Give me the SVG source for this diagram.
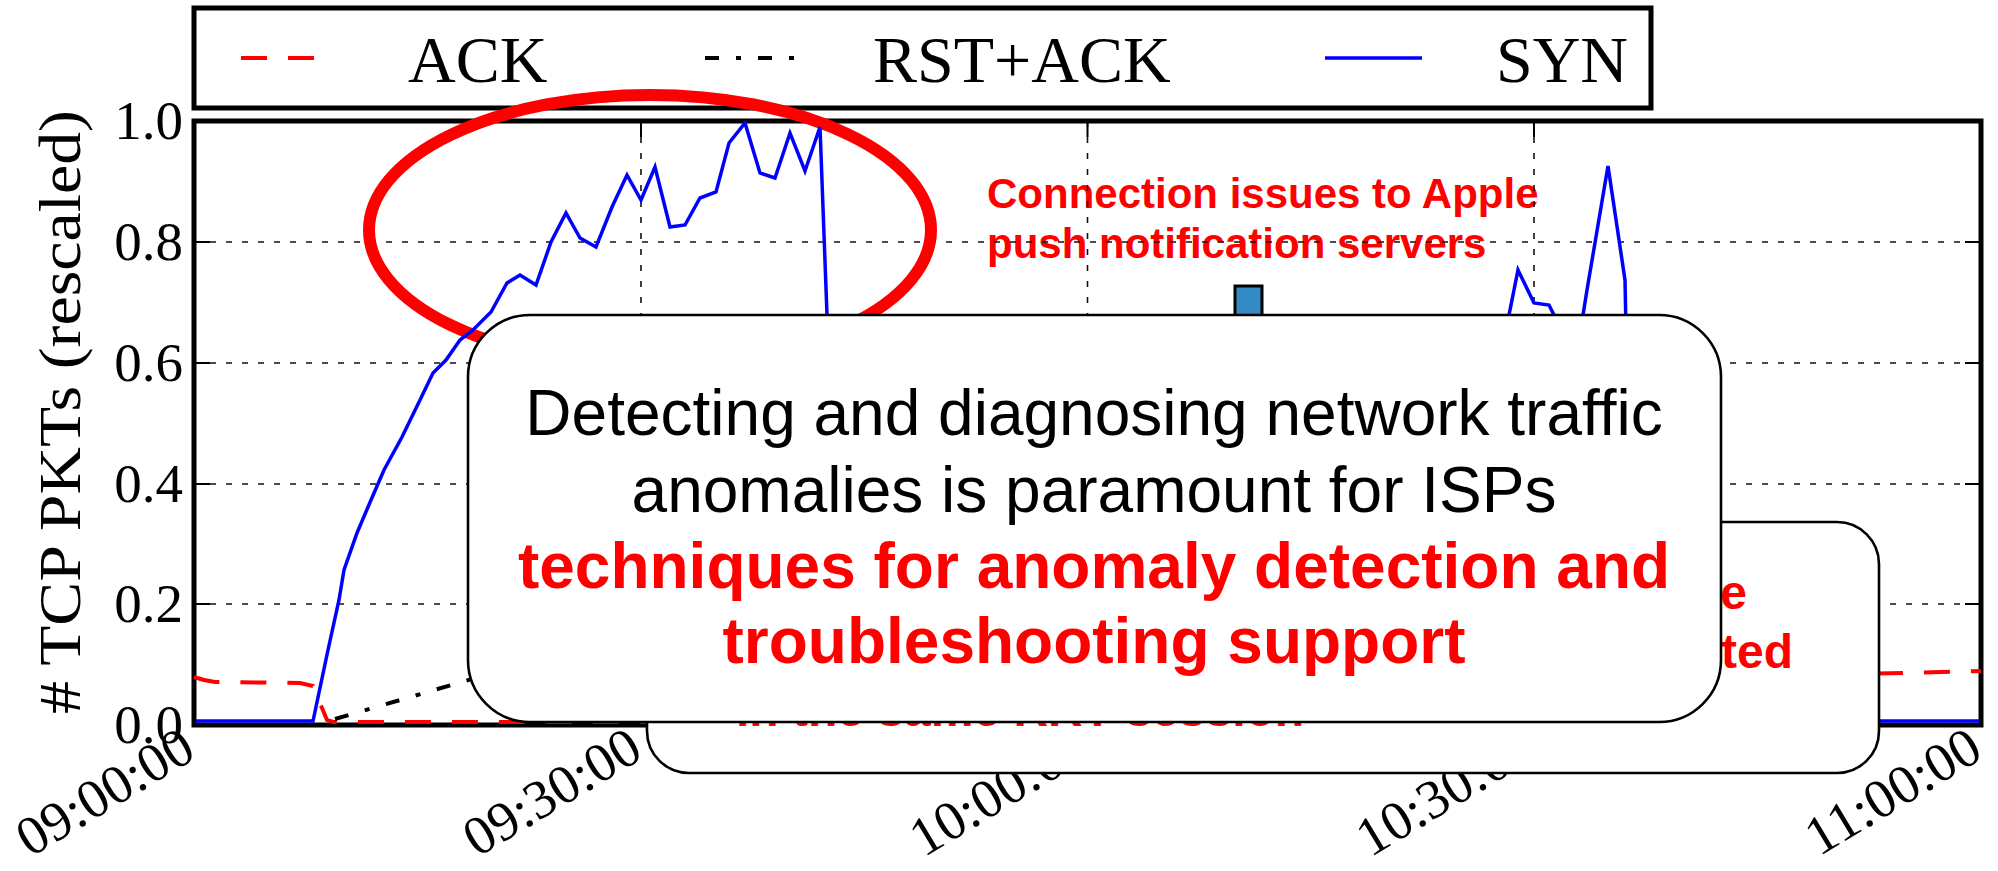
<svg xmlns="http://www.w3.org/2000/svg" width="1998" height="871" viewBox="0 0 1998 871">
  <defs>
    <style>
      .serif { font-family: "Liberation Serif", "Times New Roman", serif; fill: #000; }
      .tick { font-size: 55px; }
      .legend { font-size: 66px; }
      .sans { font-family: "Liberation Sans", Arial, sans-serif; }
      .msg { font-size: 64px; fill: #000; }
      .hl { font-size: 64px; fill: #ff0000; font-weight: bold; }
      .note { font-size: 42px; fill: #ff0000; font-weight: bold; }
      .note2 { font-size: 48px; fill: #ff0000; font-weight: bold; }
      .grid { stroke: #111; stroke-width: 1.6; stroke-dasharray: 6 10; fill: none; }
      .tk { stroke: #000; stroke-width: 2; fill: none; }
      .frame { fill: none; stroke: #000; stroke-width: 5; }
      .ack { fill: none; stroke: #ff0000; stroke-width: 4; stroke-dasharray: 26 21; }
      .rst { fill: none; stroke: #000; stroke-width: 4; stroke-dasharray: 14 17 5 17; }
      .syn { fill: none; stroke: #0000ff; stroke-width: 3.5; stroke-linejoin: miter; }
      .box { fill: #fff; stroke: #000; stroke-width: 2.6; }
    </style>
  </defs>

  <rect x="0" y="0" width="1998" height="871" fill="#fff"/>

  <!-- annotation on the plot -->
  <g id="apple-note" class="sans">
    <text class="note" x="987" y="208">Connection issues to Apple</text>
    <text class="note" x="987" y="258">push notification servers</text>
  </g>
  <g id="marker">
    <rect x="1235" y="286" width="27" height="50" fill="#3389c4" stroke="#000" stroke-width="3"/>
  </g>

  <!-- grid -->
  <g id="grid">
    <path class="grid" d="M641,121V725M1087.5,121V725M1534,121V725"/>
    <path class="grid" d="M194,242H1981M194,363H1981M194,484H1981M194,604H1981"/>
  </g>

  <!-- ticks -->
  <g id="ticks">
    <path class="tk" d="M194,242h16M194,363h16M194,484h16M194,604h16M1981,242h-16M1981,363h-16M1981,484h-16M1981,604h-16"/>
    <path class="tk" d="M641,121v16M1087.5,121v16M1534,121v16M641,725v-16M1087.5,725v-16M1534,725v-16"/>
  </g>

  <!-- axes frame -->
  <rect id="axes" class="frame" x="194" y="121" width="1787" height="604"/>

  <!-- y tick labels -->
  <g id="yticks" class="serif tick" text-anchor="end">
    <text x="183" y="139">1.0</text>
    <text x="183" y="260">0.8</text>
    <text x="183" y="381">0.6</text>
    <text x="183" y="502">0.4</text>
    <text x="183" y="622">0.2</text>
    <text x="183" y="743">0.0</text>
  </g>
  <text id="ylabel" class="serif" font-size="60" text-anchor="middle" textLength="604" lengthAdjust="spacingAndGlyphs" transform="translate(80,412) rotate(-90)"># TCP PKTs (rescaled)</text>

  <!-- x tick labels -->
  <g id="xticks" class="serif tick" text-anchor="end">
    <text transform="translate(198,757) rotate(-31)">09:00:00</text>
    <text transform="translate(645,757) rotate(-31)">09:30:00</text>
    <text transform="translate(1091.5,757) rotate(-31)">10:00:00</text>
    <text transform="translate(1538,757) rotate(-31)">10:30:00</text>
    <text transform="translate(1985,757) rotate(-31)">11:00:00</text>
  </g>

  <!-- legend -->
  <g id="legend">
    <rect class="frame" x="194" y="8" width="1457" height="100" stroke-width="4.5"/>
    <path class="ack" d="M241,58H315"/>
    <text class="serif legend" x="408" y="82">ACK</text>
    <path class="rst" d="M705,58H796"/>
    <text class="serif legend" x="873" y="82">RST+ACK</text>
    <path class="syn" d="M1325,58H1422" stroke-width="4"/>
    <text class="serif legend" x="1496" y="82">SYN</text>
  </g>

  <!-- highlight ellipse -->
  <ellipse id="highlight" cx="650" cy="230" rx="281" ry="135" fill="none" stroke="#ff0000" stroke-width="12"/>

  <!-- data series -->
  <g id="series">
    <path class="ack" d="M194,677Q205,681 215,682L300,683L313,686L322,708L327,720L333,722L1840,722L1860,674L1981,671"/>
    <path class="rst" d="M335,719L472,679L560,662"/>
    <path class="syn" d="M196,721L313,721L328,650L339,600L344,570L357,533L371,500L384,470L402,437L420,400L433,373L446,360L460,340L473,330L491,312L507,283L520,275L536,285L551,242L566,213L580,238L596,247L612,207L627,175L641,200L655,167L670,227L685,225L700,198L716,192L729,143L745,123L760,173L775,178L790,133L805,171L820,127L827,315L830,420L1500,420L1509,315L1518,270L1534,303L1549,305L1554,315L1560,420L1580,420L1583,315L1587,290L1608,166L1625,280L1626,330L1650,450L1700,640L1800,700L1870,721L1979,721"/>
  </g>

  <!-- second callout (partly covered) -->
  <g id="callout-back">
    <rect class="box" x="647" y="522" width="1232" height="251" rx="42" ry="42"/>
    <g class="sans note2">
      <text x="1747" y="609" text-anchor="end">e</text>
      <text x="1793" y="668" text-anchor="end">ted</text>
      <text x="736" y="726">in the same RRT session</text>
    </g>
  </g>

  <!-- main callout -->
  <g id="callout-main">
    <rect class="box" x="468" y="315" width="1253" height="407" rx="62" ry="62"/>
    <g class="sans" text-anchor="middle">
      <text class="msg" x="1094" y="435">Detecting and diagnosing network traffic</text>
      <text class="msg" x="1094" y="512">anomalies is paramount for ISPs</text>
      <text class="hl" x="1094" y="588">techniques for anomaly detection and</text>
      <text class="hl" x="1094" y="663">troubleshooting support</text>
    </g>
  </g>
</svg>
